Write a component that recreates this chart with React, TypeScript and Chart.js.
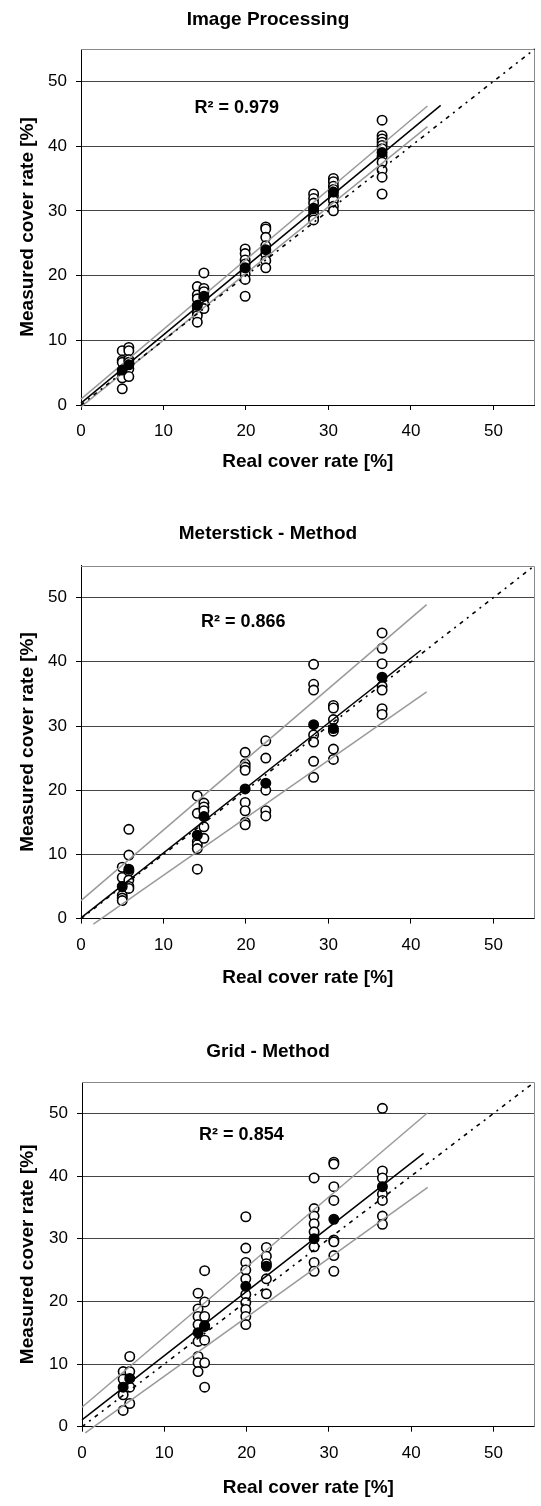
import React, { useEffect, useRef } from "react";
import { Chart, registerables } from "chart.js";

Chart.register(...registerables);

// ---------- DATA ----------
const realCover = [5.0, 5.8, 14.1, 14.9, 19.9, 22.4, 28.2, 30.6, 36.5];
const axisTicks = [0, 10, 20, 30, 40, 50];
const identityX = [0, 55];
const identityY = [0, 55];

// Image Processing
const ipMeasured = [
  [8.4, 6.9, 6.6, 5.0, 4.2, 2.5],
  [8.9, 8.4, 7.0, 6.6, 5.6, 4.4],
  [18.3, 17.0, 16.4, 15.0, 14.2, 13.8, 12.8],
  [20.4, 18.0, 17.5, 16.5, 15.6, 14.9],
  [24.1, 23.4, 22.4, 21.8, 20.9, 20.2, 19.4, 16.8],
  [27.5, 27.2, 25.9, 24.6, 23.3, 22.3, 21.2],
  [32.6, 31.9, 31.2, 30.0, 29.4, 28.9, 28.6],
  [35.0, 34.5, 33.8, 33.3, 32.3, 31.6, 30.7, 30.0],
  [44.0, 41.6, 41.1, 40.6, 40.1, 39.6, 38.4, 37.5, 36.3, 35.2, 32.6],
];
const ipMean = [5.4, 6.2, 15.4, 16.8, 21.2, 24.0, 30.4, 32.9, 39.0];
const ipFitX = [0, 43.6];
const ipFitY = [0.3, 46.3];
const ipUpperX = [0, 42.0];
const ipUpperY = [0.9, 46.2];
const ipLowerX = [0, 42.0];
const ipLowerY = [-0.3, 43.0];
const ipR2 = "0.979";

// Meterstick - Method
const msMeasured = [
  [8.0, 6.4, 3.6, 3.2, 2.8],
  [13.9, 9.9, 7.4, 6.0, 5.0, 4.7],
  [19.1, 16.4, 12.0, 11.5, 10.9, 7.7],
  [18.0, 17.4, 16.8, 14.3, 12.5],
  [25.9, 24.1, 23.6, 23.1, 18.1, 16.8, 15.0, 14.6],
  [27.7, 25.0, 20.0, 16.8, 16.0],
  [39.6, 36.5, 35.6, 28.6, 27.5, 24.5, 22.0],
  [33.2, 32.8, 31.0, 29.2, 26.4, 24.8],
  [44.5, 42.1, 39.7, 36.2, 35.6, 32.7, 31.8],
];
const msMean = [5.0, 7.7, 13.0, 15.9, 20.2, 21.1, 30.2, 29.6, 37.6];
const msFitX = [0, 41.2];
const msFitY = [0.1, 41.8];
const msUpperX = [0, 41.9];
const msUpperY = [2.8, 48.9];
const msLowerX = [1.5, 41.9];
const msLowerY = [-0.85, 35.3];
const msR2 = "0.866";

// Grid - Method
const grMeasured = [
  [8.8, 7.6, 5.1, 2.6],
  [11.2, 8.8, 6.3, 3.7],
  [21.3, 18.8, 17.6, 16.3, 13.6, 11.2, 10.2, 8.8],
  [24.9, 19.9, 17.6, 16.0, 13.8, 10.2, 6.3],
  [33.5, 28.5, 26.2, 25.0, 23.6, 21.1, 19.8, 18.7, 17.6, 16.3],
  [28.6, 27.2, 26.0, 23.6, 21.2],
  [39.7, 34.8, 33.6, 32.4, 31.1, 28.7, 26.2, 24.8],
  [42.2, 41.9, 38.3, 36.1, 29.8, 29.5, 27.3, 24.8],
  [50.8, 40.8, 39.7, 37.1, 36.1, 33.6, 32.3],
];
const grMean = [6.3, 7.7, 15.0, 16.1, 22.4, 25.6, 30.0, 33.1, 38.3];
const grFitX = [0, 41.5];
const grFitY = [1.1, 43.6];
const grUpperX = [0, 42.0];
const grUpperY = [3.1, 50.1];
const grLowerX = [0.4, 42.0];
const grLowerY = [-1.0, 38.2];
const grR2 = "0.854";

// ---------- LAYOUT / STYLE ----------
const FONT = '"Liberation Sans", Arial, Helvetica, sans-serif';

type Layout = {
  height: number;
  titlePadTop: number;
  titlePadBottom: number;
  yAxisWidth: number;
  xAxisHeight: number;
  xTickPad: number;
  xTitlePadBottom: number;
  r2X: number;
  r2Y: number;
};

const toPts = (xs: number[], ys: number[]) => xs.map((x, i) => ({ x, y: ys[i] }));

const framePlugin = {
  id: "frame",
  beforeDatasetsDraw(chart: any) {
    const { ctx, chartArea } = chart;
    const { left, right, top, bottom } = chartArea;
    ctx.save();
    ctx.strokeStyle = "#8a8a8a";
    ctx.lineWidth = 1;
    ctx.beginPath();
    ctx.moveTo(left, Math.round(top) + 0.5);
    ctx.lineTo(Math.round(right) - 0.5, Math.round(top) + 0.5);
    ctx.lineTo(Math.round(right) - 0.5, bottom);
    ctx.stroke();
    ctx.restore();
  },
};

const r2Plugin = {
  id: "r2label",
  afterDatasetsDraw(chart: any, _args: any, opts: any) {
    if (!opts || !opts.text) return;
    const { ctx } = chart;
    const px = chart.scales.x.getPixelForValue(opts.x);
    const py = chart.scales.y.getPixelForValue(opts.y);
    ctx.save();
    ctx.font = `bold 18px ${FONT}`;
    ctx.fillStyle = "#000";
    ctx.textAlign = "right";
    ctx.textBaseline = "middle";
    ctx.fillText(opts.text, px, py);
    ctx.restore();
  },
};

type PanelProps = {
  title: string;
  measured: number[][];
  means: number[];
  fitX: number[];
  fitY: number[];
  upX: number[];
  upY: number[];
  loX: number[];
  loY: number[];
  r2: string;
  layout: Layout;
};

function Panel(p: PanelProps) {
  const ref = useRef<HTMLCanvasElement | null>(null);
  useEffect(() => {
    if (!ref.current) return;
    const L = p.layout;
    const openPts = realCover.flatMap((x, i) => p.measured[i].map((y) => ({ x, y })));
    const meanPts = realCover.map((x, i) => ({ x, y: p.means[i] }));
    const lineBase = {
      showLine: true,
      pointRadius: 0,
      pointHoverRadius: 0,
      fill: false,
      clip: 10,
      order: 1,
    };
    const chart = new Chart(ref.current, {
      type: "scatter",
      data: {
        datasets: [
          {
            label: "measured",
            data: openPts,
            pointRadius: 4.7,
            pointBorderWidth: 1.6,
            pointBackgroundColor: "#fff",
            pointBorderColor: "#000",
            showLine: false,
            order: 2,
          } as any,
          {
            ...lineBase,
            label: "1:1",
            data: toPts(identityX, identityY),
            borderColor: "#000",
            borderWidth: 1.6,
            borderDash: [4, 5, 2, 5],
          },
          {
            ...lineBase,
            label: "upper",
            data: toPts(p.upX, p.upY),
            borderColor: "#9a9a9a",
            borderWidth: 1.5,
          },
          {
            ...lineBase,
            label: "lower",
            data: toPts(p.loX, p.loY),
            borderColor: "#9a9a9a",
            borderWidth: 1.5,
          },
          {
            ...lineBase,
            label: "fit",
            data: toPts(p.fitX, p.fitY),
            borderColor: "#000",
            borderWidth: 1.5,
          },
          {
            label: "mean",
            data: meanPts,
            pointRadius: 4.7,
            pointBorderWidth: 1.6,
            pointBackgroundColor: "#000",
            pointBorderColor: "#000",
            showLine: false,
            order: 0,
          } as any,
        ],
      },
      options: {
        responsive: false,
        animation: false,
        events: [],
        layout: { padding: { left: 0, right: 5, top: 0, bottom: 0 } },
        plugins: {
          legend: { display: false },
          tooltip: { enabled: false },
          title: {
            display: true,
            text: p.title,
            color: "#000",
            font: { family: FONT, size: 19, weight: "bold", lineHeight: 1.2 },
            padding: { top: L.titlePadTop, bottom: L.titlePadBottom },
          },
          r2label: { text: "R\u00B2 = " + p.r2, x: L.r2X, y: L.r2Y },
        } as any,
        scales: {
          x: {
            type: "linear",
            min: 0,
            max: 55,
            afterBuildTicks: (s: any) => {
              s.ticks = axisTicks.map((v) => ({ value: v }));
            },
            afterFit: (s: any) => {
              s.height = L.xAxisHeight;
            },
            ticks: {
              color: "#000",
              font: { family: FONT, size: 17, lineHeight: 1.2 },
              padding: L.xTickPad,
              maxRotation: 0,
              includeBounds: false,
            },
            grid: {
              drawOnChartArea: false,
              drawTicks: true,
              tickLength: 5,
              tickColor: "#000",
              color: "#000",
            },
            border: { display: true, color: "#000", width: 1 },
            title: {
              display: true,
              text: "Real cover rate [%]",
              color: "#000",
              font: { family: FONT, size: 19, weight: "bold", lineHeight: 1.2 },
              padding: { top: 0, bottom: L.xTitlePadBottom },
            },
          },
          y: {
            type: "linear",
            min: 0,
            max: 55,
            afterBuildTicks: (s: any) => {
              s.ticks = axisTicks.map((v) => ({ value: v }));
            },
            afterFit: (s: any) => {
              s.width = L.yAxisWidth;
            },
            ticks: {
              color: "#000",
              font: { family: FONT, size: 17, lineHeight: 1.2 },
              padding: 9,
              includeBounds: false,
            },
            grid: {
              drawOnChartArea: true,
              drawTicks: true,
              tickLength: 5,
              tickColor: "#000",
              color: "#444",
              lineWidth: 1,
            },
            border: { display: true, color: "#000", width: 1 },
            title: {
              display: true,
              text: "Measured cover rate [%]",
              color: "#000",
              font: { family: FONT, size: 19, weight: "bold", lineHeight: 1.2 },
              padding: { top: 16.5, bottom: 0 },
            },
          },
        },
      } as any,
      plugins: [framePlugin, r2Plugin],
    });
    return () => chart.destroy();
  }, []);
  return (
    <canvas
      ref={ref}
      width={541}
      height={p.layout.height}
      style={{ display: "block", width: 541, height: p.layout.height }}
    />
  );
}

const layouts: Layout[] = [
  { height: 517, titlePadTop: 8.5, titlePadBottom: 17.7, yAxisWidth: 81, xAxisHeight: 112, xTickPad: 11, xTitlePadBottom: 43.6, r2X: 24.0, r2Y: 45.9 },
  { height: 516, titlePadTop: 5.5, titlePadBottom: 20.2, yAxisWidth: 81, xAxisHeight: 114.4, xTickPad: 12, xTitlePadBottom: 43.6, r2X: 24.8, r2Y: 46.2 },
  { height: 473, titlePadTop: 7.5, titlePadBottom: 18.7, yAxisWidth: 82, xAxisHeight: 79.3, xTickPad: 11, xTitlePadBottom: 6.6, r2X: 24.5, r2Y: 46.5 },
];

export default function App() {
  return (
    <div style={{ position: "absolute", left: 0, top: 0, width: 541, background: "#fff" }}>
      <Panel title="Image Processing" measured={ipMeasured} means={ipMean} fitX={ipFitX} fitY={ipFitY} upX={ipUpperX} upY={ipUpperY} loX={ipLowerX} loY={ipLowerY} r2={ipR2} layout={layouts[0]} />
      <Panel title="Meterstick - Method" measured={msMeasured} means={msMean} fitX={msFitX} fitY={msFitY} upX={msUpperX} upY={msUpperY} loX={msLowerX} loY={msLowerY} r2={msR2} layout={layouts[1]} />
      <Panel title="Grid - Method" measured={grMeasured} means={grMean} fitX={grFitX} fitY={grFitY} upX={grUpperX} upY={grUpperY} loX={grLowerX} loY={grLowerY} r2={grR2} layout={layouts[2]} />
    </div>
  );
}
